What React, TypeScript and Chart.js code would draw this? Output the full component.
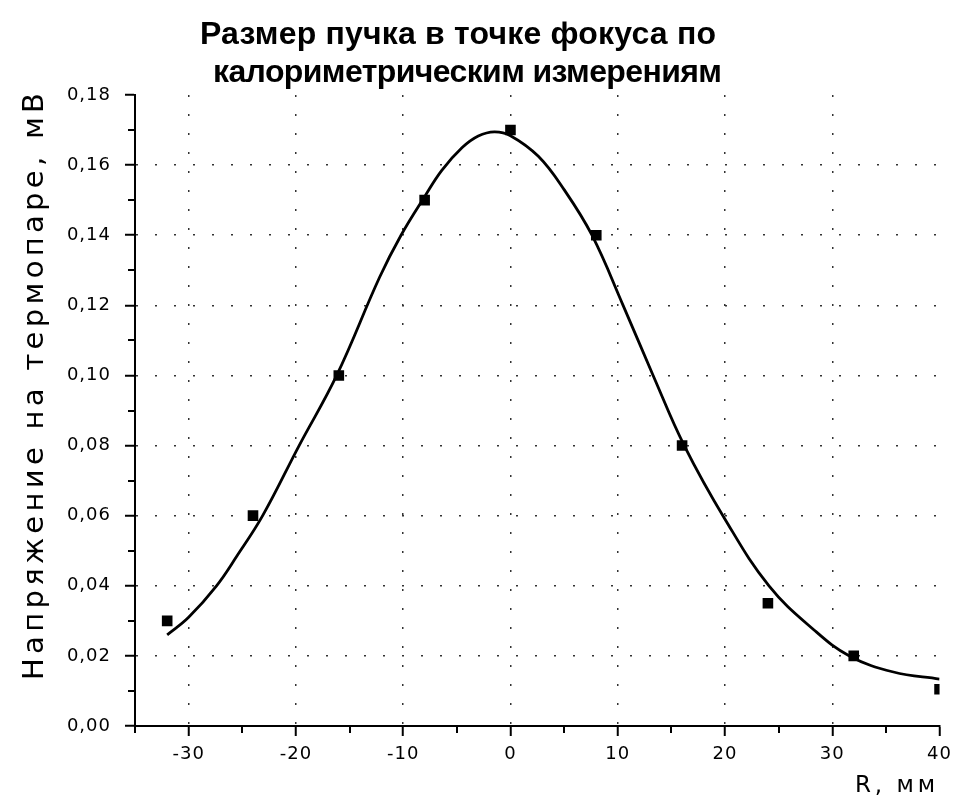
import React, { useEffect, useRef } from 'react';
import { Chart, registerables } from 'chart.js';

Chart.register(...registerables);

// measured points (R, mm ; voltage, mV)
const pointR = [-32, -24, -16, -8, 0, 8, 16, 24, 32, 40];
const pointV = [0.030, 0.060, 0.100, 0.150, 0.170, 0.140, 0.080, 0.035, 0.020, 0.0105];

// fitted curve
const curveR = [-32, -30, -27.4, -25.5, -23.1, -19.7, -16.2, -12.2, -10.2, -8, -6.4, -4.5, -3, -1.5, 0, 2.6, 5, 7.6, 10.5, 13.3, 16.2, 20, 24.1, 28.3, 31.6, 35.7, 40];
const curveV = [0.026, 0.031, 0.040, 0.0485, 0.060, 0.080, 0.100, 0.128, 0.140, 0.151, 0.1585, 0.165, 0.1683, 0.1695, 0.1684, 0.1625, 0.153, 0.140, 0.120, 0.100, 0.080, 0.059, 0.040, 0.0274, 0.020, 0.0154, 0.0134];

const titleLines = ['Размер пучка в точке фокуса по', 'калориметрическим измерениям'];
const yLabel = 'Напряжение на термопаре, мВ';
const xLabel = 'R, мм';

const xMin = -35;
const xMax = 40;
const xMajor = 10;
const xMinor = 5;
const yMin = 0;
const yMax = 0.18;
const yMajor = 0.02;
const yMinor = 0.01;

const FONT = "'Liberation Sans', Arial, sans-serif";
const WIDE = "'DejaVu Sans', Verdana, sans-serif";
const GRID = '#333';
const NONE = 'rgba(0,0,0,0)';

const isMajorX = (v: number) => Math.abs(Math.round(v / xMinor) % Math.round(xMajor / xMinor)) === 0;
const isMajorY = (v: number) => Math.abs(Math.round(v / yMinor) % Math.round(yMajor / yMinor)) === 0;

function drawFitted(ctx: any, text: string, x: number, y: number, target: number) {
  ctx.letterSpacing = '0px';
  const w0 = ctx.measureText(text).width;
  const n = Array.from(text).length;
  const s = n > 1 ? (target - w0) / (n - 1) : 0;
  ctx.letterSpacing = s + 'px';
  ctx.textAlign = 'left';
  ctx.textBaseline = 'alphabetic';
  ctx.fillText(text, x, y);
  ctx.letterSpacing = '0px';
}

const decorPlugin = {
  id: 'decor',
  beforeDraw(chart: any) {
    const ctx = chart.ctx;
    ctx.save();
    ctx.fillStyle = '#fff';
    ctx.fillRect(0, 0, chart.width, chart.height);
    ctx.restore();
    ctx.letterSpacing = '1px';
  },
  afterDraw(chart: any) {
    const ctx = chart.ctx;
    const area = chart.chartArea;
    const xs = chart.scales.x;
    const ys = chart.scales.y;
    ctx.save();
    ctx.letterSpacing = '0px';
    // minor ticks
    ctx.strokeStyle = '#000';
    ctx.lineWidth = 2;
    ctx.beginPath();
    xs.ticks.forEach((t: any) => {
      if (!isMajorX(t.value)) {
        const px = Math.round(xs.getPixelForValue(t.value));
        ctx.moveTo(px, area.bottom);
        ctx.lineTo(px, area.bottom + 7);
      }
    });
    ys.ticks.forEach((t: any) => {
      if (!isMajorY(t.value)) {
        const py = Math.round(ys.getPixelForValue(t.value));
        ctx.moveTo(area.left, py);
        ctx.lineTo(area.left - 7, py);
      }
    });
    ctx.stroke();

    ctx.fillStyle = '#000';
    // title
    ctx.font = `bold 32px ${FONT}`;
    drawFitted(ctx, titleLines[0], 200, 44, 516);
    drawFitted(ctx, titleLines[1], 213, 82, 509);
    // x label
    ctx.font = `23px ${WIDE}`;
    drawFitted(ctx, xLabel, 855, 792, 80);
    // y label
    ctx.font = `29px ${WIDE}`;
    ctx.translate(43, 680);
    ctx.rotate(-Math.PI / 2);
    drawFitted(ctx, yLabel, 0, 0, 587);
    ctx.restore();
  },
};

export default function App() {
  const ref = useRef<HTMLCanvasElement | null>(null);

  useEffect(() => {
    if (!ref.current) return;
    const chart = new Chart(ref.current, {
      type: 'scatter',
      data: {
        datasets: [
          {
            label: 'points',
            data: pointR.map((r, i) => ({ x: r, y: pointV[i] })),
            pointStyle: 'rect',
            pointRadius: 7.5,
            pointBorderWidth: 0,
            backgroundColor: '#000',
            borderColor: '#000',
            showLine: false,
            clip: 0,
          },
          {
            label: 'fit',
            data: curveR.map((r, i) => ({ x: r, y: curveV[i] })),
            showLine: true,
            pointRadius: 0,
            borderColor: '#000',
            borderWidth: 2.8,
            tension: 0.4,
            fill: false,
          },
        ],
      },
      options: {
        responsive: false,
        animation: false,
        events: [],
        layout: { padding: { top: 95, right: 14, left: 0, bottom: 0 } },
        plugins: {
          legend: { display: false },
          tooltip: { enabled: false },
          title: { display: false },
        },
        scales: {
          x: {
            type: 'linear',
            min: xMin,
            max: xMax,
            afterFit: (s: any) => { s.height = 72; },
            ticks: {
              stepSize: xMinor,
              autoSkip: false,
              maxRotation: 0,
              minRotation: 0,
              padding: 8,
              color: '#000',
              font: { family: WIDE, size: 18 },
              callback: (v: any) => (isMajorX(Number(v)) ? String(Math.round(Number(v))) : ''),
            },
            grid: {
              color: (c: any) => {
                const v = c.tick ? c.tick.value : NaN;
                return isMajorX(v) && v > xMin && v < xMax ? GRID : NONE;
              },
              lineWidth: 1.5,
              tickColor: (c: any) => (c.tick && isMajorX(c.tick.value) ? '#000' : NONE),
              tickWidth: 2,
              tickLength: 10,
              tickBorderDash: [],
            },
            border: { display: true, color: '#000', width: 2, dash: [2, 17] },
          },
          y: {
            type: 'linear',
            min: yMin,
            max: yMax,
            afterFit: (s: any) => { s.width = 135; },
            ticks: {
              stepSize: yMinor,
              autoSkip: false,
              padding: 14,
              color: '#000',
              font: { family: WIDE, size: 18 },
              callback: (v: any) => (isMajorY(Number(v)) ? Number(v).toFixed(2).replace('.', ',') : ''),
            },
            grid: {
              color: (c: any) => {
                const v = c.tick ? c.tick.value : NaN;
                return isMajorY(v) && v > yMin + 1e-6 && v < yMax - 1e-6 ? GRID : NONE;
              },
              lineWidth: 1.5,
              tickColor: (c: any) => (c.tick && isMajorY(c.tick.value) ? '#000' : NONE),
              tickWidth: 2,
              tickLength: 10,
              tickBorderDash: [],
            },
            border: { display: true, color: '#000', width: 2, dash: [2, 17] },
          },
        },
      } as any,
      plugins: [decorPlugin],
    });
    return () => chart.destroy();
  }, []);

  return (
    <div style={{ position: 'fixed', left: 0, top: 0, width: 959, height: 798, background: '#fff' }}>
      <canvas ref={ref} width={959} height={798} style={{ width: 959, height: 798, display: 'block' }} />
    </div>
  );
}
